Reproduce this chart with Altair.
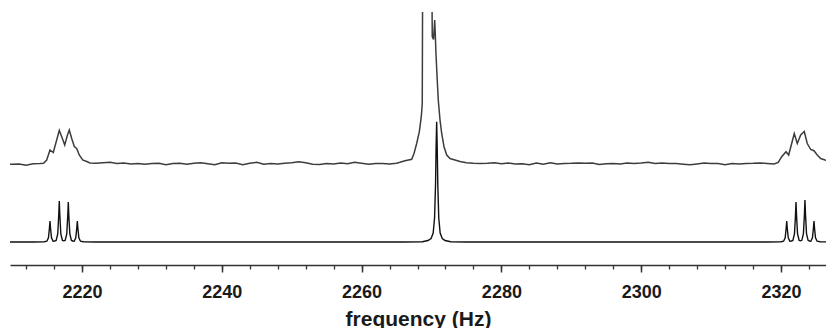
import altair as alt
import pandas as pd

# ---- experimental (top) trace: frequency (Hz) and intensity above its own baseline
exp_freq = [
    2209.7, 2210, 2211, 2212, 2213, 2214, 2214.5,
    2214.95, 2215.42, 2215.89, 2216.38, 2216.75, 2217.14, 2217.53, 2217.90, 2218.18,
    2218.53, 2218.90, 2219.24, 2219.61, 2220.10, 2220.67, 2221.14,
    2222, 2223, 2224, 2225, 2226, 2227, 2228, 2229, 2230, 2231, 2232, 2233, 2234,
    2235, 2236, 2237, 2238, 2239, 2240, 2241, 2242, 2243, 2244, 2245, 2246, 2247,
    2248, 2249, 2250, 2251, 2252, 2253, 2254, 2255, 2256, 2257, 2258, 2259, 2260,
    2261, 2262, 2263, 2264, 2265,
    2265.49, 2266.21, 2267.17, 2267.50, 2267.88, 2268.26, 2268.54, 2268.68, 2268.74,
    2269.21, 2270.04, 2270.11, 2270.29, 2270.46, 2270.54, 2270.64, 2270.79, 2270.97,
    2271.22, 2271.46, 2271.79, 2272.18, 2272.65, 2273.36, 2274.08,
    2275, 2276, 2277, 2278, 2279, 2280, 2281, 2282, 2283, 2284, 2285, 2286, 2287,
    2288, 2289, 2290, 2291, 2292, 2293, 2294, 2295, 2296, 2297, 2298, 2299, 2300,
    2301, 2302, 2303, 2304, 2305, 2306, 2307, 2308, 2309, 2310, 2311, 2312, 2313,
    2314, 2315, 2316, 2317, 2318, 2319,
    2319.61, 2320.10, 2320.72, 2321.10, 2321.53, 2321.90, 2322.33, 2322.82, 2323.33,
    2323.76, 2324.25, 2324.72, 2325.19, 2325.68, 2326.30, 2327.01, 2327.6,
]
exp_int = [
    -0.7, -0.7, -0.5, -1.8, -0.3, 0.0, 0.3,
    3.5, 13.5, 11.0, 23.5, 33.0, 26.0, 18.5, 28.0, 33.5,
    25.0, 17.0, 15.0, 8.5, 3.5, 2.0, 0.5,
    0.3, 0.8, 1.3, 0.0, 0.5, -0.6, 0.0, -0.8, 0.0, 0.2, -1.2, 0.0, 0.2,
    -0.7, 0.2, 0.7, -0.3, -1.2, 0.7, 0.2, 0.6, -1.2, 0.2, 1.2, -0.7, 0.0,
    -0.6, 0.3, 0.8, 1.8, 0.8, -0.7, -1.1, 0.0, -0.6, 0.6, -0.2, 1.2, 0.2,
    -0.7, 0.0, 0.0, -0.5, 0.3,
    1.2, 2.8, 4.2, 10.0, 20.0, 31.8, 46.8, 60.0, 200.0,
    260.0, 200.0, 126.8, 124.0, 143.5, 130.0, 110.0, 88.0, 63.5,
    43.5, 30.0, 16.8, 8.5, 5.0, 3.5, 2.0,
    0.7, 0.2, 0.0, 0.2, 0.8, -0.3, 0.5, -0.5, -0.2, -1.2, 0.6, -0.7, 0.7,
    -0.6, 0.0, 0.2, 0.6, 0.2, 0.5, -1.0, -0.3, 0.0, -0.5, 0.5, 0.0, 0.5,
    1.2, 0.0, 0.6, 0.0, 0.0, -0.7, -1.3, -0.4, 0.5, 0.0, 0.0, -1.2, 0.0,
    -0.6, 0.0, 0.2, 0.6, 0.0, -0.5,
    1.0, 6.8, 11.8, 8.5, 20.0, 30.0, 20.0, 28.5, 32.0,
    20.0, 14.0, 12.8, 8.5, 5.0, 3.5, 2.8, 1.8,
]

# ---- simulated (bottom) spectrum
sim_freq = [
    2209.7, 2213.0, 2214.6,
    2214.97, 2215.20, 2215.34, 2215.42, 2215.50, 2215.64, 2215.87, 2216.08,
    2216.30, 2216.53, 2216.67, 2216.75, 2216.83, 2216.97, 2217.20, 2217.40,
    2217.59, 2217.82, 2217.96, 2218.04, 2218.12, 2218.26, 2218.49, 2218.69,
    2218.88, 2219.11, 2219.25, 2219.33, 2219.41, 2219.55, 2219.78, 2220.2, 2222.0,
    2266.0, 2268.7, 2269.5, 2269.94, 2270.24, 2270.44, 2270.58, 2270.66, 2270.74,
    2270.82, 2270.90, 2271.04, 2271.24, 2271.54, 2271.94, 2272.74, 2275.0,
    2318.0, 2320.0,
    2320.37, 2320.60, 2320.74, 2320.82, 2320.90, 2321.04, 2321.27, 2321.49,
    2321.70, 2321.93, 2322.07, 2322.15, 2322.23, 2322.37, 2322.60, 2322.79,
    2322.98, 2323.21, 2323.35, 2323.43, 2323.51, 2323.65, 2323.88, 2324.08,
    2324.27, 2324.50, 2324.64, 2324.72, 2324.80, 2324.94, 2325.17, 2325.6, 2327.6,
]
sim_int = [
    0.0, 0.0, 0.3,
    0.8, 4.2, 13.7, 21.0, 13.7, 4.2, 0.8, 1.0,
    1.6, 8.2, 26.7, 41.0, 26.7, 8.2, 1.6, 1.2,
    1.6, 8.0, 26.0, 40.0, 26.0, 8.0, 1.6, 1.0,
    0.8, 4.2, 13.7, 21.0, 13.7, 4.2, 0.8, 0.3, 0.0,
    0.0, 0.3, 1.5, 3.5, 9.0, 24.0, 58.0, 95.0, 120.3,
    95.0, 58.0, 24.0, 9.0, 3.5, 1.5, 0.3, 0.0,
    0.0, 0.3,
    0.8, 4.2, 13.7, 21.0, 13.7, 4.2, 0.8, 1.0,
    1.6, 8.0, 26.0, 40.0, 26.0, 8.0, 1.6, 1.2,
    1.7, 8.4, 27.3, 42.0, 27.3, 8.4, 1.7, 1.0,
    0.8, 4.2, 13.7, 21.0, 13.7, 4.2, 0.8, 0.3, 0.0,
]

major_ticks = [2220, 2240, 2260, 2280, 2300, 2320]
minor_ticks = [2212, 2216, 2220, 2224, 2228, 2232, 2236, 2240, 2244, 2248, 2252,
               2256, 2260, 2264, 2268, 2272, 2276, 2280, 2284, 2288, 2292, 2296,
               2300, 2304, 2308, 2312, 2316, 2320, 2324]
x_domain = [2209.7, 2326.44]
y_domain = [-23, 230]
exp_offset = 78.5

exp_df = pd.DataFrame({"freq": exp_freq, "intensity": exp_int})
sim_df = pd.DataFrame({"freq": sim_freq, "intensity": sim_int})

xscale = alt.Scale(domain=x_domain, nice=False, zero=False)
yscale = alt.Scale(domain=y_domain, nice=False, zero=False)

axis_color = "#333333"
font = "Liberation Sans"

major_axis = alt.Axis(
    orient="bottom", values=major_ticks, format="d",
    tickSize=7, tickWidth=1.5, tickColor=axis_color,
    domain=False, grid=False,
    labelFont=font, labelFontWeight="bold", labelFontSize=18, labelColor="#1a1a1a",
    labelPadding=11, labelFlush=False,
    title="frequency (Hz)", titleFont=font, titleFontWeight="bold", titleFontSize=21,
    titleColor="#1a1a1a", titleBaseline="alphabetic", titleY=60,
)
minor_axis = alt.Axis(
    orient="bottom", values=minor_ticks, tickSize=4, tickWidth=1.3, tickColor=axis_color,
    domain=True, domainColor=axis_color, domainWidth=1.5,
    grid=False, labels=False, title=None,
)

exp_line = (
    alt.Chart(exp_df)
    .transform_calculate(shifted=f"datum.intensity + {exp_offset}")
    .mark_line(color="#3d3d3d", strokeWidth=1.5, clip=True)
    .encode(
        x=alt.X("freq:Q", scale=xscale, axis=major_axis),
        y=alt.Y("shifted:Q", scale=yscale, axis=None),
    )
)
sim_line = (
    alt.Chart(sim_df)
    .mark_line(color="#111111", strokeWidth=1.4, clip=True)
    .encode(
        x=alt.X("freq:Q", scale=xscale, axis=minor_axis),
        y=alt.Y("intensity:Q", scale=yscale, axis=None),
    )
)

chart = (
    alt.layer(exp_line, sim_line)
    .resolve_axis(x="independent")
    .properties(width=816, height=253,
                padding={"left": 2, "top": 4, "right": 0, "bottom": 0},
                background="white")
    .configure_view(stroke=None)
)

chart.save("out.html", embed_options={"renderer": "svg", "actions": False})
